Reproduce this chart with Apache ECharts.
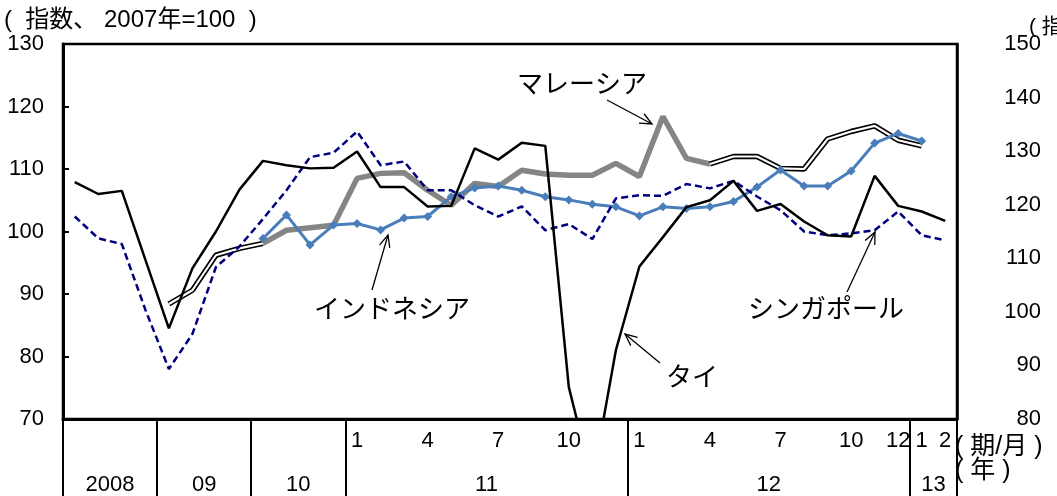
<!DOCTYPE html>
<html>
<head>
<meta charset="utf-8">
<script src="https://cdn.jsdelivr.net/npm/echarts@6/dist/echarts.min.js"></script>
<style>
html,body{margin:0;padding:0;background:#fff;}
#chart{width:1057px;height:496px;}
</style>
</head>
<body>
<div id="chart"></div>
<script>
// ---- categories (2008Q1 .. 2010Q4 quarterly, 2011/1 .. 2013/2 monthly) ----
const categories = [
  '2008Q1','2008Q2','2008Q3','2008Q4',
  '2009Q1','2009Q2','2009Q3','2009Q4',
  '2010Q1','2010Q2','2010Q3','2010Q4',
  '2011/1','2011/2','2011/3','2011/4','2011/5','2011/6','2011/7','2011/8','2011/9','2011/10','2011/11','2011/12',
  '2012/1','2012/2','2012/3','2012/4','2012/5','2012/6','2012/7','2012/8','2012/9','2012/10','2012/11','2012/12',
  '2013/1','2013/2'
];
const monthTickLabels = [
  '','','','',
  '','','','',
  '','','','',
  '1','','','4','','','7','','','10','','',
  '1','','','4','','','7','','','10','','12',
  '1','2'
];
const yearLabels = ['2008','09','10','11','12','13'];
const yearLengths = [4,4,4,12,12,2];

// ---- series values (left axis: 2007=100) ----
const thailand = [
  107.9,106.0,106.5,95.5,
  84.5,94.1,100.0,106.7,
  111.3,110.6,110.1,110.2,
  112.8,107.1,107.1,104.0,104.1,113.3,111.5,114.2,113.7,75.1,60.0,81.0,
  94.4,99.1,103.9,105.0,108.1,103.3,104.4,101.6,99.4,99.2,108.9,104.1,
  103.2,101.7
];
const singapore = [
  102.4,98.9,98.0,87.5,
  78.0,83.6,94.3,97.6,
  102.0,106.6,111.9,112.6,
  116.0,110.6,111.2,106.6,106.6,104.2,102.4,104.0,100.2,101.2,98.8,105.3,
  105.8,105.7,107.6,106.9,108.1,105.6,103.4,100.0,99.4,99.7,100.2,103.2,
  99.4,98.6
];
const malaysia = [
  null,null,null,null,
  88.4,90.6,96.2,97.3,
  98.1,100.2,100.6,101.0,
  108.5,109.3,109.4,106.6,104.2,107.7,107.2,109.8,109.2,109.0,109.0,110.9,
  108.8,118.4,111.7,110.8,112.0,112.0,110.1,110.0,114.8,116.0,116.9,114.6,
  113.7,null
];
// ---- right axis ----
const indonesia = [
  null,null,null,null,
  null,null,null,null,
  113.7,118.1,112.5,116.2,
  116.5,115.3,117.5,117.8,121.5,123.1,123.5,122.7,121.5,120.9,120.1,119.6,
  117.9,119.6,119.3,119.6,120.6,123.3,126.5,123.5,123.5,126.3,131.5,133.3,
  131.9,null
];
const leftTicks = {min:70, max:130, interval:10};
const rightTicks = {min:80, max:150, interval:10};

// ---- helpers ----
function segment(arr, keep){ return arr.map((v,i)=> keep(i) ? v : null); }
const midFrom = 8, midTo = 27;

// second x axis: half-slot points to place year labels and dividers
const halfCount = categories.length*2 + 1;
const yearAxisData = new Array(halfCount).fill('');
const dividerIdx = new Set([0]);
let acc = 0;
yearLabels.forEach((lab,k)=>{
  yearAxisData[acc + yearLengths[k]] = lab; // center in half units
  acc += yearLengths[k]*2;
  dividerIdx.add(acc);
});

const FONT = "'Liberation Sans','Noto Sans CJK JP',sans-serif";
const chart = echarts.init(document.getElementById('chart'), null, {renderer:'canvas'});

function arrow(x1,y1,x2,y2){
  const ang = Math.atan2(y2-y1, x2-x1), L = 13, a = 0.42;
  const p1 = [x2 - L*Math.cos(ang-a), y2 - L*Math.sin(ang-a)];
  const p2 = [x2 - L*Math.cos(ang+a), y2 - L*Math.sin(ang+a)];
  return [
    {type:'line', shape:{x1,y1,x2,y2}, style:{stroke:'#000', lineWidth:1.3}, z:100},
    {type:'polyline', shape:{points:[p1,[x2,y2],p2]}, style:{stroke:'#000', lineWidth:1.3, fill:null}, z:100}
  ];
}
function label(text, x, y, size, align){
  return {type:'text', x, y, z:100, style:{text, font: size+'px '+FONT, fill:'#000',
    textAlign: align||'left', textVerticalAlign:'middle'}};
}

const option = {
  animation:false,
  backgroundColor:'#fff',
  grid:{left:63, right:100, top:44, bottom:77, show:true, borderColor:'#000', borderWidth:2.5},
  xAxis:[
    {type:'category', data:categories, boundaryGap:true, position:'bottom',
     axisLine:{show:true, lineStyle:{color:'#000', width:3}},
     axisTick:{show:false},
     axisLabel:{interval:0, margin:11, color:'#000', fontSize:22, fontFamily:FONT,
       formatter:(v,i)=>monthTickLabels[i]}},
    {type:'category', data:yearAxisData, boundaryGap:false, position:'bottom',
     axisLine:{show:false},
     axisTick:{show:true, inside:false, length:77, interval:(i)=>dividerIdx.has(i),
       lineStyle:{color:'#000', width:2}},
     axisLabel:{interval:0, margin:55, color:'#000', fontSize:22, fontFamily:FONT}}
  ],
  yAxis:[
    {type:'value', position:'left', min:leftTicks.min, max:leftTicks.max, interval:leftTicks.interval,
     axisLine:{show:true, lineStyle:{color:'#000', width:3}},
     axisTick:{show:true, inside:true, length:6, lineStyle:{color:'#000', width:2}},
     axisLabel:{color:'#000', fontSize:22, fontFamily:FONT, margin:19},
     splitLine:{show:false}},
    {type:'value', position:'right', min:rightTicks.min, max:rightTicks.max, interval:rightTicks.interval,
     axisLine:{show:true, lineStyle:{color:'#000', width:2.5}},
     axisTick:{show:false},
     axisLabel:{color:'#000', fontSize:22, fontFamily:FONT, margin:84, align:'right'},
     splitLine:{show:false}}
  ],
  series:[
    {name:'マレーシア', type:'line', data:segment(malaysia,i=>i>=midFrom&&i<=midTo), yAxisIndex:0,
     symbol:'none', lineStyle:{color:'#858585', width:5.5}, z:2},
    {name:'マレーシアA', type:'line', data:segment(malaysia,i=>i<=midFrom||i>=midTo), yAxisIndex:0,
     symbol:'none', lineStyle:{color:'#000', width:5.5}, z:2},
    {name:'マレーシアB', type:'line', data:segment(malaysia,i=>i<=midFrom||i>=midTo), yAxisIndex:0,
     symbol:'none', lineStyle:{color:'#fff', width:2.2}, z:3},
    {name:'インドネシア', type:'line', data:indonesia, yAxisIndex:1,
     symbol:'diamond', symbolSize:9, itemStyle:{color:'#4a7ebb'},
     lineStyle:{color:'#4a7ebb', width:3}, z:4},
    {name:'シンガポール', type:'line', data:singapore, yAxisIndex:0,
     symbol:'none', lineStyle:{color:'#00007f', width:2.5, type:[7,4]}, z:5},
    {name:'タイ', type:'line', data:thailand, yAxisIndex:0,
     symbol:'none', lineStyle:{color:'#000', width:2.5}, z:6}
  ],
  graphic:[
    label('(  指数、 2007年=100  )', 4, 20, 24),
    label('( 指数、2010年=100 )', 1029, 27, 21),
    label('( 期/月 )', 955, 447, 25),
    label('( 年 )', 955, 471, 25),
    label('マレーシア', 582, 86, 26, 'center'),
    label('インドネシア', 392, 311, 26, 'center'),
    label('シンガポール', 826, 311, 26, 'center'),
    label('タイ', 692, 379, 26, 'center'),
    ...arrow(607,100,652,124),
    ...arrow(372,290,388,235),
    ...arrow(847,292,875,232),
    ...arrow(660,363,625,334)
  ]
};
chart.setOption(option);
</script>
</body>
</html>
